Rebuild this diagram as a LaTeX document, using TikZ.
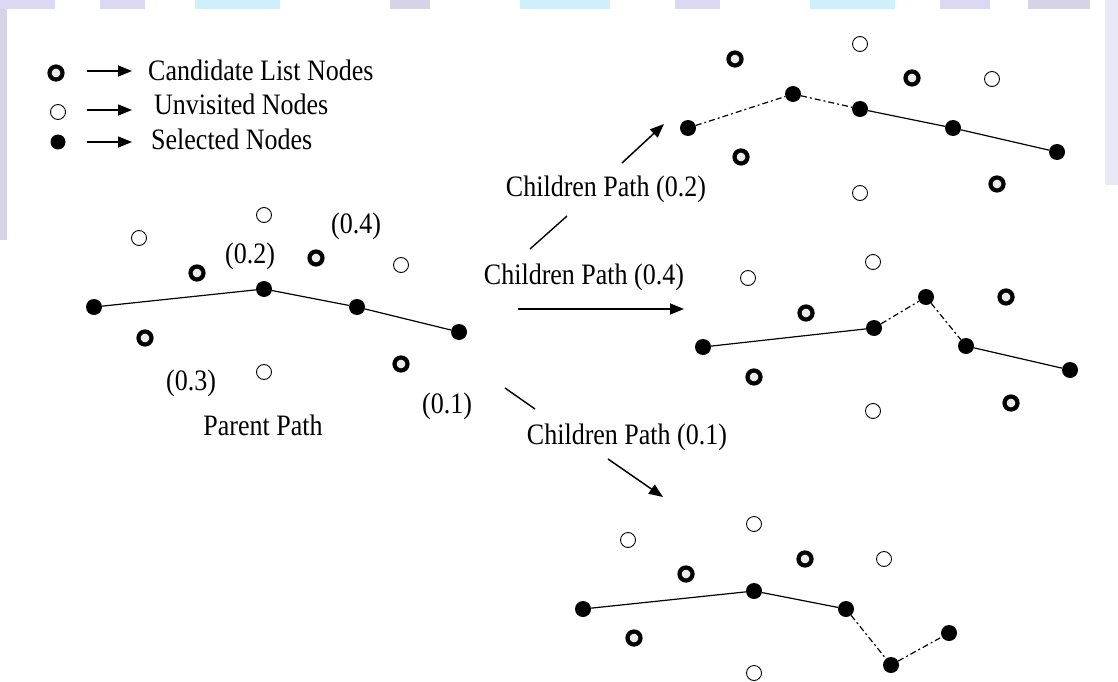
\documentclass[tikz,border=0pt]{standalone}
\usepackage{fontspec}
\setmainfont{Liberation Serif}
\usetikzlibrary{arrows.meta}
\newcommand\vs[1]{\scalebox{1}[1.14]{#1}}
\definecolor{lav}{HTML}{DAD8F2}
\definecolor{lavg}{HTML}{D6D3E6}
\definecolor{cya}{HTML}{CFF0FB}
\begin{document}
\begin{tikzpicture}[x=1pt,y=-1pt,
  cand/.style={circle,draw=black,line width=4.2pt,fill=black!8,minimum size=13pt,inner sep=0pt},
  unv/.style={circle,draw=black,line width=0.9pt,fill=white,minimum size=15pt,inner sep=0pt},
  sel/.style={circle,fill=black,minimum size=16pt,inner sep=0pt},
  lbl/.style={font=\fontsize{26}{30}\selectfont,inner sep=0pt,text=black},
  pth/.style={line width=1.2pt,black},
  dd/.style={line width=1.2pt,black,dash pattern=on 6pt off 3pt on 2pt off 3pt},
  arr/.style={line width=1.5pt,-{Triangle[length=14pt,width=11pt]}},
  seg/.style={line width=1.4pt}]
\useasboundingbox (0,0) rectangle (1118,682);
% faint background edges
\fill[white] (0,0) rectangle (1118,682);
\fill[lavg] (0,0) rectangle (7,240);
\fill[lav] (0,0) rectangle (55,9);
\fill[lav] (100,0) rectangle (145,9);
\fill[cya] (195,0) rectangle (280,9);
\fill[lavg] (390,0) rectangle (430,9);
\fill[cya] (520,0) rectangle (610,9);
\fill[lav] (675,0) rectangle (720,9);
\fill[cya] (810,0) rectangle (895,9);
\fill[lav] (940,0) rectangle (990,9);
\fill[lavg] (1028,0) rectangle (1090,9);
\fill[lav!60] (1105,0) rectangle (1118,185);

% legend
\node[cand] (lc) at (56,73) {};
\node[unv]  (lu) at (58,112) {};
\node[sel,minimum size=15pt] (ls) at (58,142) {};
\coordinate (la1) at (87,71);  \coordinate (la2) at (132,71);
\coordinate (lb1) at (87,110); \coordinate (lb2) at (132,110);
\coordinate (lc1) at (87,142); \coordinate (lc2) at (132,142);
\draw[arr] (la1) -- (la2);
\draw[arr] (lb1) -- (lb2);
\draw[arr] (lc1) -- (lc2);
\node[lbl,anchor=west] (t1) at (148,70) {\vs{Candidate List Nodes}};
\node[lbl,anchor=west] (t2) at (154,104) {\vs{Unvisited Nodes}};
\node[lbl,anchor=west] (t3) at (151,139) {\vs{Selected Nodes}};

% parent path
\node[unv] (pu1) at (139,238) {};
\node[unv] (pu2) at (264,215) {};
\node[unv] (pu3) at (401,265) {};
\node[unv] (pu4) at (264,372) {};
\node[cand] (pc1) at (197,273) {};
\node[cand] (pc2) at (316,258) {};
\node[cand] (pc3) at (145,338) {};
\node[cand] (pc4) at (401,364) {};
\node[sel] (ps1) at (94,307) {};
\node[sel] (ps2) at (264,289) {};
\node[sel] (ps3) at (357,307) {};
\node[sel] (ps4) at (459,332) {};
\draw[pth] (ps1) -- (ps2) -- (ps3) -- (ps4);
\node[lbl] (l04) at (356,226) {\vs{(0.4)}};
\node[lbl] (l02) at (250,256) {\vs{(0.2)}};
\node[lbl] (l03) at (191,383) {\vs{(0.3)}};
\node[lbl] (l01) at (447,406) {\vs{(0.1)}};
\node[lbl] (pp) at (263,425) {\vs{Parent Path}};

% child labels and arrows
\node[lbl] (c02) at (606,189) {\vs{Children Path (0.2)}};
\node[lbl] (c04) at (584,277) {\vs{Children Path (0.4)}};
\node[lbl] (c01) at (627,437) {\vs{Children Path (0.1)}};
\coordinate (a1) at (530,249); \coordinate (a2) at (567,216);
\coordinate (a3) at (622,163); \coordinate (a4) at (664,124);
\draw[seg] (a1) -- (a2);
\draw[arr] (a3) -- (a4);
\coordinate (b1) at (518,309); \coordinate (b2) at (684,309);
\draw[arr] (b1) -- (b2);
\coordinate (d1) at (505,388); \coordinate (d2) at (535,409);
\coordinate (d3) at (608,459); \coordinate (d4) at (663,497);
\draw[seg] (d1) -- (d2);
\draw[arr] (d3) -- (d4);

% top child (0.2)
\node[unv] (tu1) at (860,44) {};
\node[unv] (tu2) at (992,79) {};
\node[unv] (tu3) at (860,193) {};
\node[cand] (tc1) at (735,59) {};
\node[cand] (tc2) at (912,78) {};
\node[cand] (tc3) at (741,157) {};
\node[cand] (tc4) at (997,184) {};
\node[sel] (ts1) at (688,128) {};
\node[sel] (ts2) at (793,94) {};
\node[sel] (ts3) at (860,109) {};
\node[sel] (ts4) at (953,128) {};
\node[sel] (ts5) at (1057,152) {};
\draw[dd] (ts1) -- (ts2) -- (ts3);
\draw[pth] (ts3) -- (ts4) -- (ts5);

% middle child (0.4)
\node[unv] (mu1) at (748,278) {};
\node[unv] (mu2) at (873,262) {};
\node[unv] (mu3) at (873,411) {};
\node[cand] (mc1) at (806,313) {};
\node[cand] (mc2) at (1006,297) {};
\node[cand] (mc3) at (754,377) {};
\node[cand] (mc4) at (1011,403) {};
\node[sel] (ms1) at (703,347) {};
\node[sel] (ms2) at (874,328) {};
\node[sel] (ms3) at (926,297) {};
\node[sel] (ms4) at (966,346) {};
\node[sel] (ms5) at (1070,370) {};
\draw[pth] (ms1) -- (ms2);
\draw[dd] (ms2) -- (ms3) -- (ms4);
\draw[pth] (ms4) -- (ms5);

% bottom child (0.1)
\node[unv] (bu1) at (628,540) {};
\node[unv] (bu2) at (754,524) {};
\node[unv] (bu3) at (884,559) {};
\node[unv] (bu4) at (754,673) {};
\node[cand] (bc1) at (686,574) {};
\node[cand] (bc2) at (805,559) {};
\node[cand] (bc3) at (634,638) {};
\node[sel] (bs1) at (583,609) {};
\node[sel] (bs2) at (754,591) {};
\node[sel] (bs3) at (846,609) {};
\node[sel] (bs4) at (891,665) {};
\node[sel] (bs5) at (949,633) {};
\draw[pth] (bs1) -- (bs2) -- (bs3);
\draw[dd] (bs3) -- (bs4) -- (bs5);
\end{tikzpicture}
\end{document}
